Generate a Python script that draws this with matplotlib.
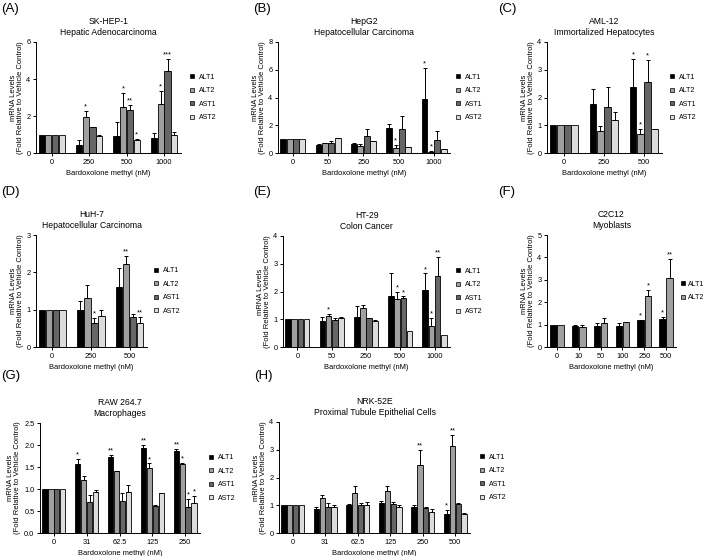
import matplotlib
matplotlib.use("Agg")
import matplotlib.pyplot as plt
from matplotlib.lines import Line2D
import numpy as np

plt.rcParams['font.family'] = ['Liberation Sans', 'DejaVu Sans']

SERIES = ["ALT1", "ALT2", "AST1", "AST2"]
COLORS = ["#000000", "#a0a0a0", "#666666", "#dcdcdc"]

# ---- Panel A: SK-HEP-1 ----
A_groups = ["0", "250", "500", "1000"]
A_means = [[1, 0.45, 0.9, 0.82],
           [1, 1.95, 2.5, 2.65],
           [1, 1.4, 2.35, 4.45],
           [1, 0.92, 0.68, 0.95]]
A_err = [[0, 0.25, 0.8, 0.26],
         [0, 0.3, 0.75, 0.7],
         [0, 0.03, 0.23, 0.65],
         [0, 0.03, 0.07, 0.17]]
A_stars = [["", "", "", ""],
           ["", "*", "*", "*"],
           ["", "", "**", "***"],
           ["", "", "*", ""]]

# ---- Panel B: HepG2 ----
B_groups = ["0", "50", "250", "500", "1000"]
B_means = [[1, 0.6, 0.68, 1.8, 3.9],
           [1, 0.72, 0.5, 0.35, 0.1],
           [1, 0.75, 1.25, 1.75, 0.95],
           [1, 1.05, 0.85, 0.4, 0.28]]
B_err = [[0, 0.03, 0.05, 0.27, 2.2],
         [0, 0.03, 0.18, 0.2, 0.05],
         [0, 0.1, 0.5, 0.95, 0.6],
         [0, 0.02, 0.02, 0.02, 0.02]]
B_stars = [["", "", "", "", "*"],
           ["", "", "", "*", "*"],
           ["", "", "", "", ""],
           ["", "", "", "", ""]]

# ---- Panel C: AML-12 ----
C_groups = ["0", "250", "500"]
C_means = [[1, 1.78, 2.38],
           [1, 0.8, 0.68],
           [1, 1.67, 2.55],
           [1, 1.18, 0.85]]
C_err = [[0, 0.52, 1.0],
         [0, 0.18, 0.2],
         [0, 0.71, 0.8],
         [0, 0.29, 0.03]]
C_stars = [["", "", "*"],
           ["", "", "*"],
           ["", "", "*"],
           ["", "", ""]]

# ---- Panel D: HuH-7 ----
D_groups = ["0", "250", "500"]
D_means = [[1, 0.98, 1.62],
           [1, 1.32, 2.22],
           [1, 0.65, 0.8],
           [1, 0.83, 0.65]]
D_err = [[0, 0.24, 0.5],
         [0, 0.33, 0.21],
         [0, 0.12, 0.08],
         [0, 0.15, 0.15]]
D_stars = [["", "", ""],
           ["", "", "**"],
           ["", "*", ""],
           ["", "", "**"]]

# ---- Panel E: HT-29 ----
E_groups = ["0", "50", "250", "500", "1000"]
E_means = [[1, 0.92, 1.08, 1.82, 2.05],
           [1, 1.12, 1.4, 1.73, 0.77],
           [1, 0.97, 1.03, 1.78, 2.57],
           [1, 1.05, 0.95, 0.58, 0.45]]
E_err = [[0, 0.16, 0.4, 0.83, 0.6],
         [0, 0.08, 0.1, 0.27, 0.26],
         [0, 0.06, 0.02, 0.04, 0.68],
         [0, 0.02, 0.01, 0.0, 0.0]]
E_stars = [["", "", "", "", "*"],
           ["", "*", "", "*", "*"],
           ["", "", "", "*", "**"],
           ["", "", "", "", ""]]

# ---- Panel F: C2C12 ----
F_groups = ["0", "10", "50", "100", "250", "500"]
F_series = ["ALT1", "ALT2"]
F_means = [[1, 0.95, 0.95, 0.95, 1.2, 1.27],
           [1, 0.88, 1.08, 1.1, 2.28, 3.1]]
F_err = [[0, 0.02, 0.1, 0.1, 0.02, 0.08],
         [0, 0.12, 0.2, 0.02, 0.27, 0.82]]
F_stars = [["", "", "", "", "*", "*"],
           ["", "", "", "", "*", "**"]]

# ---- Panel G: RAW 264.7 ----
G_groups = ["0", "31", "62.5", "125", "250"]
G_means = [[1, 1.57, 1.72, 1.93, 1.87],
           [1, 1.2, 1.4, 1.47, 1.57],
           [1, 0.7, 0.73, 0.62, 0.58],
           [1, 0.93, 0.93, 0.9, 0.68]]
G_err = [[0, 0.11, 0.06, 0.07, 0.03],
         [0, 0.1, 0.01, 0.11, 0.03],
         [0, 0.17, 0.17, 0.02, 0.2],
         [0, 0.05, 0.15, 0.01, 0.17]]
G_stars = [["", "*", "**", "**", "**"],
           ["", "", "", "*", "*"],
           ["", "", "", "", "*"],
           ["", "", "", "", "*"]]

# ---- Panel H: NRK-52E ----
H_groups = ["0", "31", "62.5", "125", "250", "500"]
H_means = [[1, 0.88, 1.0, 1.07, 0.93, 0.7],
           [1, 1.27, 1.45, 1.52, 2.45, 3.15],
           [1, 0.93, 1.02, 1.05, 0.9, 1.05],
           [1, 0.95, 1.0, 0.93, 0.75, 0.7]]
H_err = [[0, 0.07, 0.03, 0.08, 0.09, 0.12],
         [0, 0.1, 0.23, 0.16, 0.53, 0.37],
         [0, 0.14, 0.06, 0.05, 0.02, 0.02],
         [0, 0.07, 0.1, 0.07, 0.1, 0.02]]
H_stars = [["", "", "", "", "", "*"],
           ["", "", "", "", "**", "**"],
           ["", "", "", "", "", ""],
           ["", "", "", "", "", ""]]

W, Hh = 709, 556
fig = plt.figure(figsize=(W / 100, Hh / 100), dpi=100)


def panel(letter, title, box, groups, means, errs, stars, series, colors,
          ymax, yticks, ytl, label_pos, bar_w=0.165, gap=0.015, xpad=(0.42, 0.45),
          leg_x=1.06, text_pad=0.6):
    x0, x1, yt, yb = box
    ax = fig.add_axes([x0 / W, 1 - yb / Hh, (x1 - x0) / W, (yb - yt) / Hh])
    n = len(series)
    idx = np.arange(len(groups))
    step = bar_w + gap
    offs = (np.arange(n) - (n - 1) / 2) * step
    for s in range(n):
        xs = idx + offs[s]
        ax.bar(xs, means[s], width=bar_w, color=colors[s], edgecolor="black",
               linewidth=0.6, zorder=2)
        for g in range(len(groups)):
            e = errs[s][g]
            m = means[s][g]
            if e > 0:
                ax.errorbar(xs[g], m, yerr=[[0], [e]], fmt="none", ecolor="black",
                            elinewidth=0.7, capsize=1.6, capthick=0.7, zorder=3)
            if stars[s][g]:
                ax.text(xs[g], m + e + ymax * 0.005, stars[s][g], ha="center",
                        va="bottom", fontsize=5.3, zorder=4)
    ax.set_xlim(-xpad[0], len(groups) - 1 + xpad[1])
    ax.set_ylim(0, ymax)
    ax.set_yticks(yticks)
    ax.set_yticklabels(ytl)
    ax.set_xticks(idx)
    ax.set_xticklabels(groups)
    for sp in ["top", "right"]:
        ax.spines[sp].set_visible(False)
    for sp in ["left", "bottom"]:
        ax.spines[sp].set_linewidth(0.7)
    ax.tick_params(axis="both", labelsize=5.3, width=0.7, length=2.5, pad=1.5)
    ax.set_xlabel("Bardoxolone methyl (nM)", fontsize=5.4, labelpad=3)
    ax.set_ylabel("mRNA Levels\n(Fold Relative to Vehicle Control)", fontsize=5.5,
                  labelpad=2, linespacing=1.0)
    ax.set_title(title, fontsize=6.2, linespacing=1.25, pad=5)
    handles = [Line2D([], [], marker="s", linestyle="none", markersize=3.2,
                      markerfacecolor=colors[s], markeredgecolor="black",
                      markeredgewidth=0.5) for s in range(n)]
    ax.legend(handles, series, loc="center left", bbox_to_anchor=(leg_x, 0.5),
              frameon=False, fontsize=5.0, handlelength=0.8, handletextpad=text_pad,
              labelspacing=0.95, borderaxespad=0.0, borderpad=0.0)
    fig.text(label_pos[0] / W, 1 - label_pos[1] / Hh, "(" + letter + ")",
             fontsize=9.5, ha="left", va="top")
    return ax


panel("A", "SK-HEP-1\nHepatic Adenocarcinoma", (36, 181, 42, 153), A_groups,
      A_means, A_err, A_stars, SERIES, COLORS, 6, [0, 2, 4, 6], ["0", "2", "4", "6"],
      (1, 3), leg_x=1.06)
panel("B", "HepG2\nHepatocellular Carcinoma", (278, 450, 42, 153), B_groups,
      B_means, B_err, B_stars, SERIES, COLORS, 8, [0, 2, 4, 6, 8],
      ["0", "2", "4", "6", "8"], (253, 3), leg_x=1.03)
panel("C", "AML-12\nImmortalized Hepatocytes", (547, 662, 42, 153), C_groups,
      C_means, C_err, C_stars, SERIES, COLORS, 4, [0, 1, 2, 3, 4],
      ["0", "1", "2", "3", "4"], (498, 3), leg_x=1.06)
panel("D", "HuH-7\nHepatocellular Carcinoma", (36, 147, 235, 347), D_groups,
      D_means, D_err, D_stars, SERIES, COLORS, 3, [0, 1, 2, 3],
      ["0", "1", "2", "3"], (1, 186), leg_x=1.06)
panel("E", "HT-29\nColon Cancer", (283, 450, 236, 347), E_groups,
      E_means, E_err, E_stars, SERIES, COLORS, 4, [0, 1, 2, 3, 4],
      ["0", "1", "2", "3", "4"], (253, 186), leg_x=1.03)
panel("F", "C2C12\nMyoblasts", (547, 676, 235, 347), F_groups,
      F_means, F_err, F_stars, F_series, COLORS[:2], 5, [0, 1, 2, 3, 4, 5],
      ["0", "1", "2", "3", "4", "5"], (498, 186), bar_w=0.3, gap=0.03,
      xpad=(0.45, 0.45), leg_x=1.03, text_pad=0.4)
panel("G", "RAW 264.7\nMacrophages", (40, 200, 423, 533), G_groups,
      G_means, G_err, G_stars, SERIES, COLORS, 2.5,
      [0, 0.5, 1.0, 1.5, 2.0, 2.5], ["0.0", "0.5", "1.0", "1.5", "2.0", "2.5"],
      (1, 370), leg_x=1.05)
panel("H", "NRK-52E\nProximal Tubule Epithelial Cells", (279, 470, 422, 533),
      H_groups, H_means, H_err, H_stars, SERIES, COLORS, 4, [0, 1, 2, 3, 4],
      ["0", "1", "2", "3", "4"], (254, 370), leg_x=1.05)

fig.savefig("out.png", dpi=100)
